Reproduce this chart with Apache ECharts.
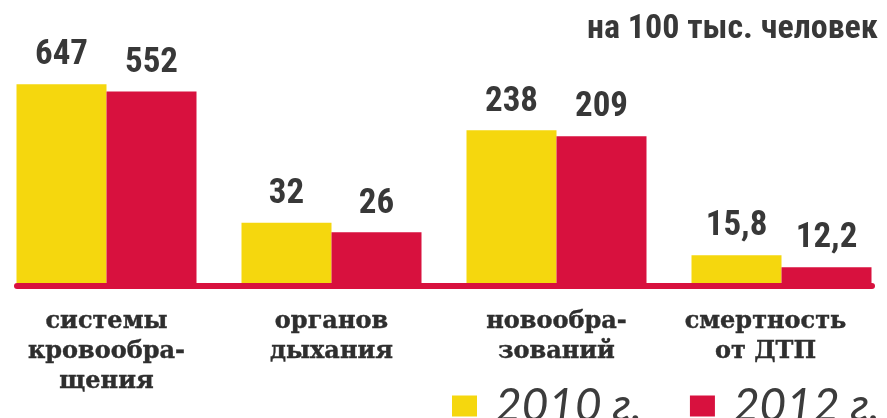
<!DOCTYPE html>
<html>
<head>
<meta charset="utf-8">
<script src="https://cdn.jsdelivr.net/npm/echarts@6/dist/echarts.min.js"></script>
<style>
  html, body { margin: 0; padding: 0; background: #fff; }
  #chart { width: 887px; height: 418px; }
</style>
</head>
<body>
<div id="chart"></div>
<script>
// Mortality causes, per 100 thousand people
const categories = [
  'системы\nкровообра-\nщения',
  'органов\nдыхания',
  'новообра-\nзований',
  'смертность\nот ДТП'
];
const values2010 = [647, 32, 238, 15.8];
const values2012 = [552, 26, 209, 12.2];
const seriesNames = ['2010 г.', '2012 г.'];
const unitLabel = 'на 100 тыс. человек';

const YELLOW = '#f5d70e';
const RED = '#d8113e';
const INK = '#383838';
const NUM_FONT = '"Roboto Condensed", "Noto Sans Condensed", "Liberation Sans Narrow", "DejaVu Sans Condensed", sans-serif';
const SERIF_FONT = '"DejaVu Serif", "Liberation Serif", serif';

const chart = echarts.init(document.getElementById('chart'), null, { renderer: 'canvas' });

const valueLabel = {
  show: true,
  position: 'top',
  distance: 11,
  color: INK,
  fontFamily: NUM_FONT,
  fontWeight: 'bold',
  fontSize: 35,
  formatter: p => String(p.value).replace('.', ',')
};

chart.setOption({
  animation: false,
  backgroundColor: '#fff',
  title: {
    text: unitLabel,
    right: 9,
    top: 12,
    padding: 0,
    textStyle: {
      color: INK,
      fontFamily: NUM_FONT,
      fontWeight: 'bold',
      fontSize: 34
    }
  },
  legend: {
    data: seriesNames,
    left: 452,
    top: 364,
    width: 800,
    padding: 0,
    icon: 'rect',
    itemWidth: 25,
    itemHeight: 21,
    itemGap: 48,
    textStyle: {
      color: '#3c3c3c',
      fontFamily: 'Lato, "Open Sans", sans-serif',
      fontWeight: 400,
      fontStyle: 'italic',
      fontSize: 46,
      lineHeight: 46,
      padding: [0, 0, 38, 13]
    }
  },
  grid: [
    { left: -6, width: 900, top: 50, bottom: 135, outerBoundsMode: 'none' },
    { left: 17, right: 15, top: 50, bottom: 132, outerBoundsMode: 'none' }
  ],
  xAxis: [
    {
      type: 'category',
      gridIndex: 0,
      data: categories.map((c, i) => i === 3
        ? { value: c, textStyle: { padding: [0, 32, 0, 0] } }
        : c),
      axisLine: { show: false },
      axisTick: { show: false },
      axisLabel: {
        interval: 0,
        margin: 24,
        color: '#2e2e2e',
        fontFamily: SERIF_FONT,
        fontWeight: 'bold',
        fontSize: 24,
        lineHeight: 30,
        textBorderColor: '#2e2e2e',
        textBorderWidth: 0.4
      }
    },
    {
      // red base rule under the bars
      type: 'value',
      gridIndex: 1,
      min: 0,
      max: 1,
      axisLine: { show: true, onZero: false, lineStyle: { color: RED, width: 6 } },
      axisTick: { show: false },
      axisLabel: { show: false },
      splitLine: { show: false }
    }
  ],
  yAxis: [
    {
      type: 'log',
      logBase: 10,
      gridIndex: 0,
      min: 8.65,
      max: 1358,
      show: false,
      splitLine: { show: false }
    },
    {
      type: 'value',
      gridIndex: 1,
      show: false,
      splitLine: { show: false }
    }
  ],
  series: [
    {
      name: seriesNames[0],
      type: 'bar',
      xAxisIndex: 0,
      yAxisIndex: 0,
      data: values2010,
      barWidth: 90,
      barGap: '0%',
      itemStyle: { color: YELLOW },
      label: valueLabel,
      z: 3
    },
    {
      name: seriesNames[1],
      type: 'bar',
      xAxisIndex: 0,
      yAxisIndex: 0,
      data: values2012,
      barWidth: 90,
      barGap: '0%',
      itemStyle: { color: RED },
      label: valueLabel,
      z: 3
    }
  ]
});
</script>
</body>
</html>
